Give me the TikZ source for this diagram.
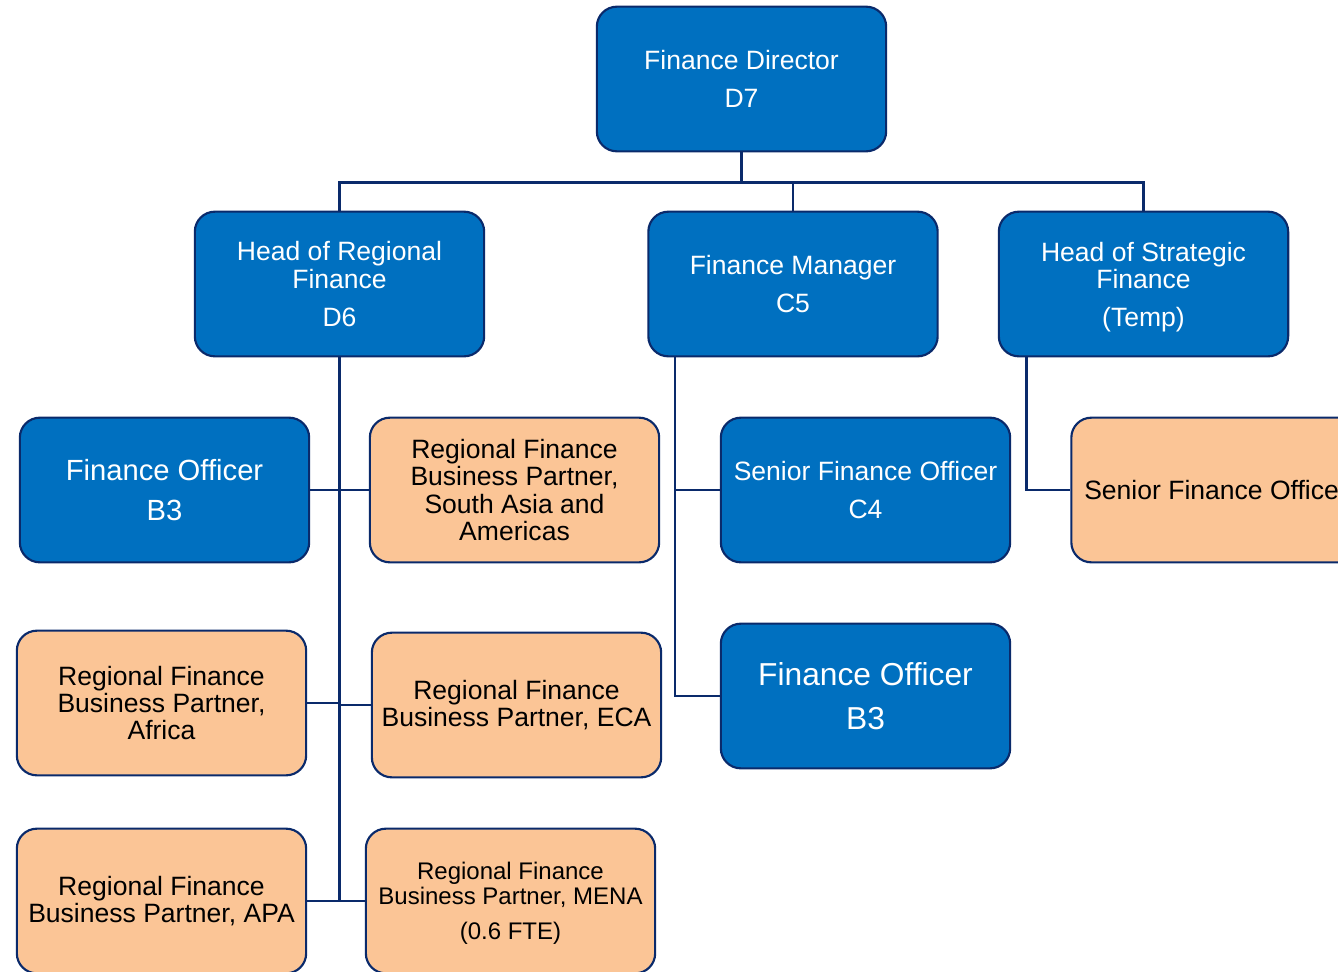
\documentclass[tikz,border=0pt]{standalone}
\usepackage{fontspec}
\setmainfont{Liberation Sans}
\usepackage{tikz}

\definecolor{boxblue}{HTML}{0070C0}
\definecolor{boxpeach}{HTML}{FBC596}
\definecolor{navy}{HTML}{0A2A6B}

\newcommand{\nodepth}[1]{\raisebox{0pt}[\height][0pt]{#1}}

\tikzset{
  orgbox/.style={draw=navy,line width=1.6pt,rounded corners=15pt,align=center,
    minimum width=217pt,minimum height=108.5pt,inner sep=0pt,
    font=\fontsize{19.9}{20.3}\selectfont},
  bluebox/.style={orgbox,fill=boxblue,text=white},
  peachbox/.style={orgbox,fill=boxpeach,text=black},
  link/.style={draw=navy,line width=1.7pt}
}

\begin{document}
\begin{tikzpicture}[x=0.75pt,y=-0.75pt]
        \useasboundingbox (0,0) rectangle (1338,971);
        % top row
        \node[bluebox] (fd) at (741.5,79) {Finance Director\\[8.2pt]D7};
        \node[bluebox] (hrf) at (339.5,284) {Head of Regional\\Finance\\[8.2pt]D6};
        \node[bluebox] (fm) at (793,284) {Finance Manager\\[8.2pt]C5};
        \node[bluebox] (hsf) at (1143.5,284) {Head of Strategic\\Finance\\[8.2pt]\nodepth{(Temp)}};
        % regional finance team
        \node[bluebox,font=\fontsize{21.9}{22.4}\selectfont] (fo1) at (164.5,490) {Finance Officer\\[8.2pt]B3};
        \node[peachbox] (rsa) at (514.5,490) {Regional Finance\\Business Partner,\\South Asia and\\Americas};
        \node[peachbox] (afr) at (161.5,703) {Regional Finance\\Business Partner,\\Africa};
        \node[peachbox] (eca) at (516.5,705) {Regional Finance\\Business Partner, ECA};
        \node[peachbox] (apa) at (161.5,901) {Regional Finance\\Business Partner, APA};
        \node[peachbox,font=\fontsize{18}{18.2}\selectfont] (mena) at (510.5,901) {Regional Finance\\Business Partner, MENA\\[8.2pt]\nodepth{(0.6 FTE)}};
        % finance manager team
        \node[bluebox] (sfo) at (865.5,490) {Senior Finance Officer\\[8.2pt]C4};
        \node[bluebox,font=\fontsize{23.8}{24.2}\selectfont] (fo2) at (865.5,696) {Finance Officer\\[9pt]B3};
        % strategic finance team
        \node[peachbox] (sfo2) at (1216,490) {Senior Finance Officer};
        % connectors
        \draw[link] (fd.south) -- ++(0,30) -| (hrf.north);
        \draw[link] (fd.south) -- ++(0,30) -| (fm.north);
        \draw[link] (fd.south) -- ++(0,30) -| (hsf.north);
        \draw[link] (hrf.south) -- (hrf.south |- apa.east);
        \draw[link] (fo1.east) -- (rsa.west);
        \draw[link] (afr.east) -- (afr.east -| hrf.south);
        \draw[link] (eca.west) -- (eca.west -| hrf.south);
        \draw[link] (apa.east) -- (mena.west);
        \draw[link] ([xshift=21pt]fm.south west) |- (sfo.west);
        \draw[link] ([xshift=21pt]fm.south west) |- (fo2.west);
        \draw[link] ([xshift=21.5pt]hsf.south west) |- (sfo2.west);
      \end{tikzpicture}
\end{document}
